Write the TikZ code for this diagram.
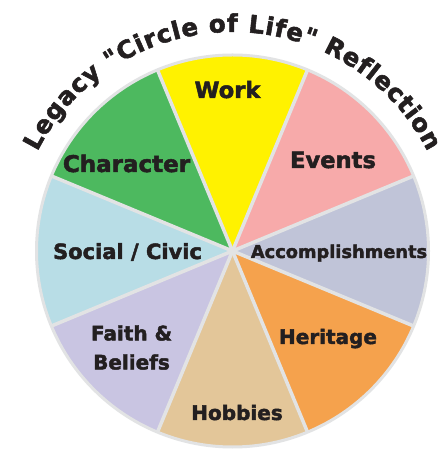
\documentclass[tikz,border=0pt]{standalone}
\usepackage{fontspec}
\setmainfont{DejaVu Sans}[Ligatures=TeXOff, BoldFeatures={FakeBold=2.2}]
\usetikzlibrary{decorations.text}
\definecolor{txt}{HTML}{231F20}
\definecolor{rimc}{HTML}{E2E3E4}
\definecolor{cWork}{HTML}{FFF200}
\definecolor{cEvents}{HTML}{F7AAAA}
\definecolor{cAcc}{HTML}{C0C4D8}
\definecolor{cHer}{HTML}{F5A24D}
\definecolor{cHob}{HTML}{E3C699}
\definecolor{cFaith}{HTML}{C9C5E2}
\definecolor{cSoc}{HTML}{B8DDE6}
\definecolor{cChar}{HTML}{4DB95F}
\newcommand\lf[1]{\fontsize{#1}{#1}\selectfont\bfseries}
\newcommand\tf{\fontsize{24.5}{24.5}\selectfont\bfseries\color{txt}}
\begin{document}
\begin{tikzpicture}[x=1pt,y=1pt,
  lbl/.style={text=txt, inner sep=0pt, anchor=base},
  sepline/.style={draw=rimc, line width=3.5pt},
  rimline/.style={draw=rimc, line width=3pt}]
\useasboundingbox (0,0) rectangle (443,449);
\fill[white] (0,0) rectangle (443,449);
\coordinate (c) at (232.5,198);
\foreach \a/\col in {90/cWork,45/cEvents,0/cAcc,-45/cHer,-90/cHob,-135/cFaith,180/cSoc,135/cChar}{
  \fill[\col] (c) -- ++(\a-22.5:196) arc[start angle=\a-22.5, end angle=\a+22.5, radius=196] -- cycle;
}
\foreach \a in {22.5,67.5,112.5,157.5,202.5,247.5,292.5,337.5}{
  \draw[sepline] (c) -- ++(\a:196);
}
\draw[rimline] (c) circle[radius=196];
\node[lbl, font=\lf{22.6}] (work) at (227.5,351) {Work};
\node[lbl, font=\lf{22.6}] (events) at (333,281) {Events};
\node[lbl, font=\lf{23}] (character) at (126.5,277) {Character};
\node[lbl, font=\lf{21}] (social) at (127.5,190) {Social / Civic};
\node[lbl, font=\lf{17.8}] (acc) at (339,191) {Accomplishments};
\node[lbl, font=\lf{20}] (heritage) at (328,105) {Heritage};
\node[lbl, font=\lf{20}] (hobbies) at (237,29) {Hobbies};
\node[text=txt, inner sep=0pt, align=center, font=\fontsize{20}{29}\selectfont\bfseries] (faith) at (131.5,101.5) {Faith \&\\Beliefs};
\path[decorate, decoration={text along path, text={|\tf|Legacy "Circle of Life" Reflection}, text align=fit to path}]
  (c) ++(153:219) arc[start angle=153, end angle=27, radius=219];
\end{tikzpicture}
\end{document}
